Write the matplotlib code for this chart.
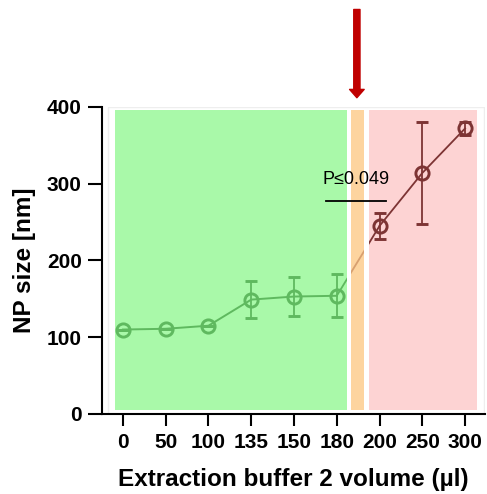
import matplotlib.pyplot as plt
from matplotlib.patches import Rectangle

plt.rcParams['font.family'] = ['Liberation Sans', 'DejaVu Sans']

volumes = ['0', '50', '100', '135', '150', '180', '200', '250', '300']
size_low = [110, 111, 115, 149, 153, 154]
err_low = [0, 0, 0, 24, 25, 28]
size_high = [245, 314, 372]
err_high = [17, 66, 9]
p_text = 'P≤0.049'

green_fill = '#a9f9a9'
orange_fill = '#fdd49f'
pink_fill = '#fdd3d3'
green_line = '#5fb95f'
red_line = '#7d3434'

fig = plt.figure(figsize=(4.87, 4.94), dpi=100)
ax = fig.add_axes([0.2094, 0.162, 0.786, 0.6215])

xi = list(range(len(volumes)))
xl = xi[:len(size_low)]
xh = xi[len(size_low):]

# background bands
ax.add_patch(Rectangle((-0.35, 0), 8.8, 400, facecolor='white', edgecolor='#eeeeee', lw=1, zorder=0))
g = Rectangle((-0.19, 5), 5.42, 391, facecolor=green_fill, edgecolor='none', zorder=0.5)
o = Rectangle((5.33, 5), 0.30, 391, facecolor=orange_fill, edgecolor='none', zorder=0.5)
p = Rectangle((5.75, 5), 2.52, 391, facecolor=pink_fill, edgecolor='none', zorder=0.5)
for r in (g, o, p):
    ax.add_patch(r)

# segment joining the two groups, coloured by band
seg_x = [xl[-1], xh[0]]
seg_y = [size_low[-1], size_high[0]]
for patch, col in ((g, green_line), (o, '#d8a070'), (p, red_line)):
    ln, = ax.plot(seg_x, seg_y, color=col, lw=1.3, zorder=1)
    ln.set_clip_path(patch)

ax.errorbar(xl, size_low, yerr=err_low, color=green_line, lw=1.4, marker='o',
            ms=9.5, mfc='none', mew=2.1, capsize=4.5, capthick=1.3, elinewidth=1.3, zorder=2)
ax.errorbar(xh, size_high, yerr=err_high, color=red_line, lw=1.3, marker='o',
            ms=9.5, mfc='none', mew=2.1, capsize=4.5, capthick=1.3, elinewidth=1.3, zorder=2)

# significance
ax.plot([4.74, 6.14], [278, 278], color='black', lw=1.3, zorder=3)
ax.text(5.44, 294, p_text, ha='center', va='bottom', fontsize=13, zorder=3)

# arrow
ax.annotate('', xy=(5.47, 412), xytext=(5.47, 527), annotation_clip=False,
            arrowprops=dict(width=4.5, headwidth=10.5, headlength=6, color='#c00000', shrink=0))

ax.set_xlim(-0.49, 8.46)
ax.set_ylim(0, 400)
ax.set_xticks(xi)
ax.set_xticklabels(volumes)
ax.set_yticks([0, 100, 200, 300, 400])
for s in ('top', 'right'):
    ax.spines[s].set_visible(False)
for s in ('left', 'bottom'):
    ax.spines[s].set_linewidth(1.5)
ax.tick_params(width=1.5, labelsize=15)
ax.tick_params(axis='x', length=8.5, pad=5)
ax.tick_params(axis='y', length=10, pad=4.5)
for t in ax.get_xticklabels() + ax.get_yticklabels():
    t.set_fontweight('bold')
ax.set_xlabel('Extraction buffer 2 volume (µl)', fontsize=17.5, fontweight='bold', labelpad=12)
ax.set_ylabel('NP size [nm]', fontsize=17.5, fontweight='bold', labelpad=8)

fig.savefig('out.png', dpi=100)
